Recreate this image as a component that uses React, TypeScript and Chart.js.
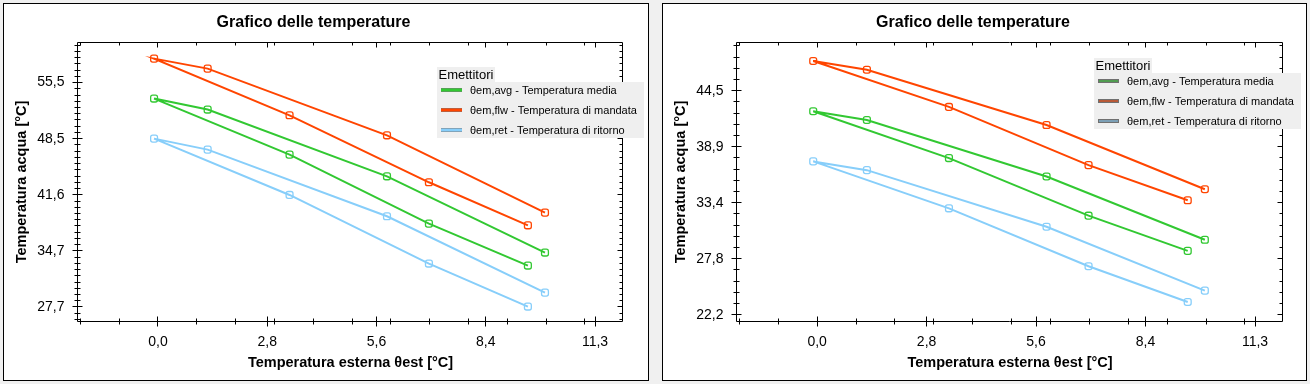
import React, { useEffect, useRef } from "react";
import { Chart, registerables } from "chart.js";

Chart.register(...registerables);

// ---------- data ----------
const chartTitle = "Grafico delle temperature";
const xTitle = "Temperatura esterna θest [°C]";
const yTitle = "Temperatura acqua [°C]";
const legendTitle = "Emettitori";

const seriesLabels = [
  "θem,avg - Temperatura media",
  "θem,flw - Temperatura di mandata",
  "θem,ret - Temperatura di ritorno",
];
const seriesColors = ["#32c832", "#ff4500", "#87cefa"];

// vertices of each polyline: upper branch back to the shared start, then lower branch
const xPoints = [9.97, 5.9, 1.28, -0.1, 3.39, 6.98, 9.53];

const leftAvg = [34.44, 43.89, 52.16, 53.52, 46.58, 38.03, 32.83];
const leftFlw = [39.39, 48.97, 57.23, 58.47, 51.45, 43.15, 37.82];
const leftRet = [29.48, 38.94, 47.2, 48.56, 41.58, 33.08, 27.75];

const rightAvg = [29.65, 35.95, 41.57, 42.44, 37.78, 32.05, 28.55];
const rightFlw = [34.68, 41.07, 46.57, 47.44, 42.87, 37.08, 33.58];
const rightRet = [24.59, 30.95, 36.58, 37.45, 32.78, 27.02, 23.46];

const xTickValues = [0, 2.815, 5.63, 8.445, 11.26];
const xTickLabels = ["0,0", "2,8", "5,6", "8,4", "11,3"];
const xMinorTicks = [-2, -1, 0, 1, 2, 3, 4, 5, 6, 7, 8, 9, 10, 11];

const leftYTickValues = [27.7, 34.65, 41.6, 48.55, 55.5];
const leftYTickLabels = ["27,7", "34,7", "41,6", "48,5", "55,5"];
const rightYTickValues = [22.2, 27.77, 33.34, 38.91, 44.48];
const rightYTickLabels = ["22,2", "27,8", "33,4", "38,9", "44,5"];

// ---------- styling ----------
const FONT = '"Liberation Sans", Arial, sans-serif';
const NARROW = '"Liberation Sans Narrow", "Arial Narrow", "Liberation Sans", sans-serif';

const framePlugin = {
  id: "frameTicks",
  afterDatasetsDraw(chart: any, _a: any, opts: any) {
    const { ctx, chartArea } = chart;
    const xs = chart.scales.x;
    const ys = chart.scales.y;
    const L = Math.round(chartArea.left) - 0.5;
    const R = Math.round(chartArea.right) - 0.5;
    const T = Math.round(chartArea.top) + 0.5;
    const B = Math.round(chartArea.bottom) - 0.5;
    ctx.save();
    ctx.strokeStyle = "#000";
    ctx.lineWidth = 1;
    ctx.beginPath();
    ctx.rect(L, T, R - L, B - T);
    const inX = (v: number) => v >= xs.min && v <= xs.max;
    const inY = (v: number) => v >= ys.min && v <= ys.max;
    for (const v of opts.xMajor) {
      if (!inX(v)) continue;
      const p = Math.floor(xs.getPixelForValue(v)) + 0.5;
      ctx.moveTo(p, B - 5); ctx.lineTo(p, B + 5);
      ctx.moveTo(p, T); ctx.lineTo(p, T + 5);
    }
    for (const v of opts.xMinor) {
      if (!inX(v)) continue;
      const p = Math.floor(xs.getPixelForValue(v)) + 0.5;
      ctx.moveTo(p, B - 3); ctx.lineTo(p, B + 3);
      ctx.moveTo(p, T); ctx.lineTo(p, T + 3);
    }
    for (const v of opts.yMajor) {
      if (!inY(v)) continue;
      const p = Math.floor(ys.getPixelForValue(v)) + 0.5;
      ctx.moveTo(L - 5, p); ctx.lineTo(L + 5, p);
      ctx.moveTo(R - 5, p); ctx.lineTo(R, p);
    }
    for (const v of opts.yMinor) {
      if (!inY(v)) continue;
      const p = Math.floor(ys.getPixelForValue(v)) + 0.5;
      ctx.moveTo(L - 3, p); ctx.lineTo(L + 3, p);
      ctx.moveTo(R - 3, p); ctx.lineTo(R, p);
    }
    ctx.stroke();
    ctx.restore();
  },
};

const legendPlugin = {
  id: "boxLegend",
  afterDraw(chart: any, _a: any, opts: any) {
    const { ctx, chartArea } = chart;
    const x0 = Math.round(chartArea.left + opts.dx);
    const y0 = Math.round(chartArea.top + opts.dy);
    ctx.save();
    ctx.font = `11px ${NARROW}`;
    const ds = chart.data.datasets;
    const maxW = Math.max(...ds.map((d: any) => ctx.measureText(d.label).width));
    const w = Math.round(33 + maxW + 7);
    const h = 56;
    ctx.font = `13px ${NARROW}`;
    const tw = ctx.measureText(legendTitle).width;
    ctx.fillStyle = "#efefef";
    ctx.fillRect(x0, y0 - 15, Math.round(tw + 3), 15);
    ctx.fillRect(x0, y0, w, h);
    ctx.fillStyle = "#000";
    ctx.textBaseline = "alphabetic";
    ctx.textAlign = "left";
    ctx.fillText(legendTitle, x0 + 1.5, y0 - 3.5);
    ctx.font = `11px ${NARROW}`;
    ctx.textBaseline = "middle";
    ds.forEach((d: any, i: number) => {
      const cy = Math.round(y0 + 8 + 20 * i);
      const lx = x0 + 4;
      if (opts.style === "gray") {
        ctx.fillStyle = "#707070";
        ctx.fillRect(lx, cy - 2, 21, 4);
        ctx.fillStyle = d.borderColor;
        ctx.fillRect(lx + 1, cy - 0.5, 19, 1);
      } else {
        ctx.fillStyle = "#7a7a7a";
        ctx.fillRect(lx, cy - 2, 21, 4);
        ctx.fillStyle = d.borderColor;
        ctx.fillRect(lx, cy - 1.5, 21, 3);
      }
      ctx.fillStyle = "#000";
      ctx.fillText(d.label, x0 + 33, cy + 0.5);
    });
    ctx.restore();
  },
};

function minorsFrom(base: number, step: number, min: number, max: number) {
  const out: number[] = [];
  let k = Math.ceil((min - base) / step);
  for (; base + k * step <= max; k++) out.push(base + k * step);
  return out;
}

type PanelProps = {
  left: number;
  width: number;
  series: number[][];
  yMin: number;
  yMax: number;
  yTicks: number[];
  yLabels: string[];
  yMinorDiv: number;
  legendDx: number;
  legendDy: number;
  legendStyle: string;
  chartRight: number;
};

function Panel(p: PanelProps) {
  const ref = useRef<HTMLCanvasElement>(null);
  useEffect(() => {
    if (!ref.current) return;
    const yStep = p.yTicks[1] - p.yTicks[0];
    const yMinor = minorsFrom(p.yTicks[0], yStep / p.yMinorDiv, p.yMin, p.yMax);
    const chart = new Chart(ref.current, {
      type: "scatter",
      data: {
        datasets: p.series.map((ys, i) => ({
          label: seriesLabels[i],
          data: xPoints.map((x, j) => ({ x, y: ys[j] })),
          showLine: true,
          borderColor: seriesColors[i],
          backgroundColor: "rgba(0,0,0,0)",
          borderWidth: 2,
          tension: 0,
          pointStyle: "rectRounded",
          pointRadius: 4,
          pointBorderWidth: 1.3,
          pointBackgroundColor: "rgba(0,0,0,0)",
          pointBorderColor: seriesColors[i],
        })),
      },
      options: {
        animation: false,
        responsive: false,
        devicePixelRatio: 1,
        events: [],
        layout: { padding: { left: 0, right: p.width - p.chartRight, top: 0, bottom: 0 } },
        plugins: {
          legend: { display: false },
          tooltip: { enabled: false },
          title: {
            display: true,
            text: chartTitle,
            color: "#000",
            font: { family: FONT, size: 16, weight: "bold" },
            padding: { top: 9, bottom: 9.8 },
          },
          frameTicks: { xMajor: xTickValues, xMinor: xMinorTicks, yMajor: p.yTicks, yMinor },
          boxLegend: { dx: p.legendDx, dy: p.legendDy, style: p.legendStyle },
        } as any,
        scales: {
          x: {
            type: "linear",
            min: -2.06,
            max: 11.98,
            afterBuildTicks: (s: any) => {
              s.ticks = xTickValues.map((v) => ({ value: v }));
            },
            afterFit: (s: any) => {
              s.height = 58;
            },
            grid: { display: false, drawTicks: false, tickLength: 0 },
            border: { display: false },
            ticks: {
              autoSkip: false,
              maxRotation: 0,
              padding: 12,
              color: "#000",
              font: { family: FONT, size: 14 },
              callback: (_v: any, i: number) => xTickLabels[i],
            },
            title: {
              display: true,
              text: xTitle,
              color: "#000",
              font: { family: FONT, size: 14.5, weight: "bold" },
              padding: { top: 0, bottom: 8 },
            },
          },
          y: {
            type: "linear",
            min: p.yMin,
            max: p.yMax,
            afterBuildTicks: (s: any) => {
              s.ticks = p.yTicks.map((v) => ({ value: v }));
            },
            afterFit: (s: any) => {
              s.width = 74;
            },
            grid: { display: false, drawTicks: false, tickLength: 0 },
            border: { display: false },
            ticks: {
              autoSkip: false,
              padding: 13.5,
              color: "#000",
              font: { family: FONT, size: 14 },
              callback: (_v: any, i: number) => p.yLabels[i],
            },
            title: {
              display: true,
              text: yTitle,
              color: "#000",
              font: { family: FONT, size: 14.5, weight: "bold" },
              padding: { top: 9, bottom: 0 },
            },
          },
        },
      } as any,
      plugins: [framePlugin, legendPlugin],
    });
    return () => chart.destroy();
  }, []);
  return (
    <div
      style={{
        position: "absolute",
        left: p.left,
        top: 3,
        width: p.width,
        height: 376,
        border: "1px solid #000",
        background: "#fff",
      }}
    >
      <canvas ref={ref} width={p.width} height={376} style={{ display: "block" }} />
    </div>
  );
}

export default function App() {
  return (
    <div
      style={{
        position: "fixed",
        left: 0,
        top: 0,
        width: 1310,
        height: 384,
        background: "#f0f0f0",
        overflow: "hidden",
      }}
    >
      <Panel
        left={3}
        width={644}
        series={[leftAvg, leftFlw, leftRet]}
        yMin={25.84}
        yMax={60.53}
        yTicks={leftYTickValues}
        yLabels={leftYTickLabels}
        yMinorDiv={9}
        legendDx={359}
        legendDy={40}
        legendStyle="color"
        chartRight={619}
      />
      <Panel
        left={662}
        width={643}
        series={[rightAvg, rightFlw, rightRet]}
        yMin={21.47}
        yMax={49.33}
        yTicks={rightYTickValues}
        yLabels={rightYTickLabels}
        yMinorDiv={5}
        legendDx={357}
        legendDy={31}
        legendStyle="gray"
        chartRight={620}
      />
    </div>
  );
}
